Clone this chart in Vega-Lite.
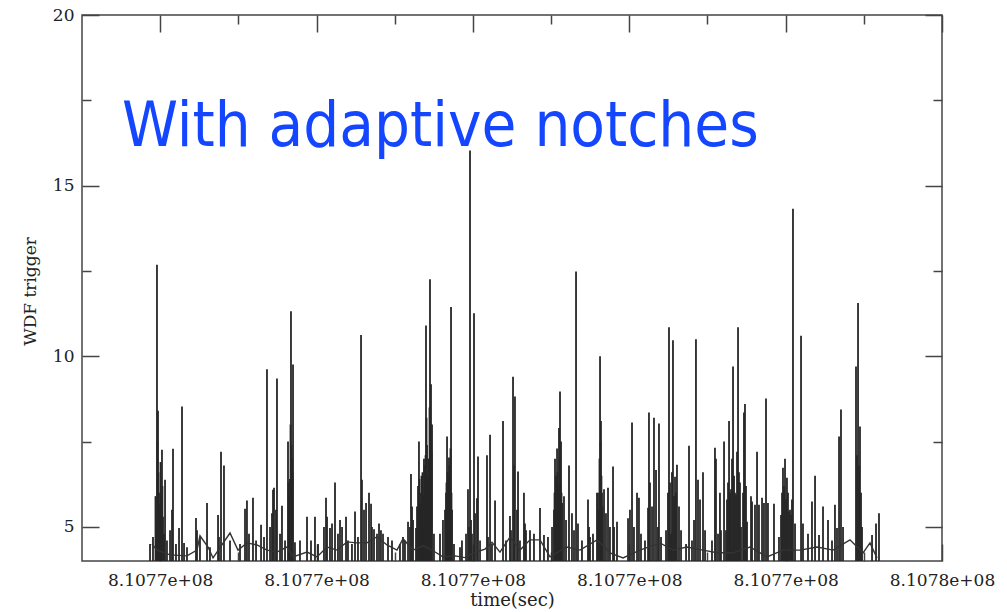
{
  "$schema": "https://vega.github.io/schema/vega-lite/v6.json",
  "width": 860,
  "height": 546,
  "autosize": {"type": "none"},
  "padding": {"left": 82, "top": 15, "right": 65, "bottom": 51},
  "background": "white",
  "config": {
    "view": {"stroke": "#444", "strokeWidth": 1.5},
    "axis": {"domain": false, "grid": false}
  },
  "datasets": {
    "spikes": [
      {"time": 810765870, "wdf": 4.5}, {"time": 810765908, "wdf": 4.7}, {"time": 810765947, "wdf": 5.15}, {"time": 810765959, "wdf": 12.68},
      {"time": 810765972, "wdf": 8.4}, {"time": 810765985, "wdf": 5.65}, {"time": 810765998, "wdf": 6.0}, {"time": 810766010, "wdf": 5.0},
      {"time": 810766023, "wdf": 7.26}, {"time": 810766036, "wdf": 5.3}, {"time": 810766049, "wdf": 4.8}, {"time": 810766062, "wdf": 6.38},
      {"time": 810766087, "wdf": 4.6}, {"time": 810766126, "wdf": 4.9}, {"time": 810766151, "wdf": 5.5}, {"time": 810766164, "wdf": 7.29},
      {"time": 810766202, "wdf": 4.5}, {"time": 810766241, "wdf": 4.97}, {"time": 810766279, "wdf": 8.53}, {"time": 810766305, "wdf": 4.53},
      {"time": 810766343, "wdf": 4.4}, {"time": 810766458, "wdf": 5.26}, {"time": 810766471, "wdf": 4.9}, {"time": 810766509, "wdf": 4.7},
      {"time": 810766599, "wdf": 5.7}, {"time": 810766637, "wdf": 4.4}, {"time": 810766740, "wdf": 5.35}, {"time": 810766752, "wdf": 4.7},
      {"time": 810766778, "wdf": 7.2}, {"time": 810766816, "wdf": 6.8}, {"time": 810766893, "wdf": 4.6}, {"time": 810767021, "wdf": 4.5},
      {"time": 810767085, "wdf": 5.53}, {"time": 810767110, "wdf": 5.77}, {"time": 810767136, "wdf": 4.8}, {"time": 810767187, "wdf": 5.85},
      {"time": 810767226, "wdf": 4.6}, {"time": 810767290, "wdf": 5.06}, {"time": 810767328, "wdf": 4.7}, {"time": 810767366, "wdf": 9.62},
      {"time": 810767405, "wdf": 5.0}, {"time": 810767430, "wdf": 5.4}, {"time": 810767443, "wdf": 6.09}, {"time": 810767456, "wdf": 6.15},
      {"time": 810767481, "wdf": 5.5}, {"time": 810767494, "wdf": 9.35}, {"time": 810767533, "wdf": 4.8}, {"time": 810767558, "wdf": 5.62},
      {"time": 810767597, "wdf": 4.6}, {"time": 810767635, "wdf": 7.5}, {"time": 810767648, "wdf": 5.5}, {"time": 810767660, "wdf": 6.4},
      {"time": 810767673, "wdf": 11.32}, {"time": 810767686, "wdf": 7.0}, {"time": 810767699, "wdf": 9.76}, {"time": 810767724, "wdf": 4.55},
      {"time": 810767788, "wdf": 4.6}, {"time": 810767878, "wdf": 5.3}, {"time": 810767929, "wdf": 4.6}, {"time": 810767980, "wdf": 5.3},
      {"time": 810768019, "wdf": 4.5}, {"time": 810768095, "wdf": 5.0}, {"time": 810768121, "wdf": 5.85}, {"time": 810768134, "wdf": 5.3},
      {"time": 810768172, "wdf": 4.97}, {"time": 810768198, "wdf": 5.1}, {"time": 810768236, "wdf": 6.3}, {"time": 810768274, "wdf": 4.8},
      {"time": 810768300, "wdf": 5.2}, {"time": 810768326, "wdf": 5.0}, {"time": 810768377, "wdf": 5.3}, {"time": 810768402, "wdf": 4.6},
      {"time": 810768453, "wdf": 4.5}, {"time": 810768492, "wdf": 5.45}, {"time": 810768530, "wdf": 4.7}, {"time": 810768569, "wdf": 10.62},
      {"time": 810768581, "wdf": 6.38}, {"time": 810768607, "wdf": 5.5}, {"time": 810768633, "wdf": 5.7}, {"time": 810768671, "wdf": 6.0},
      {"time": 810768697, "wdf": 5.68}, {"time": 810768709, "wdf": 5.0}, {"time": 810768735, "wdf": 4.93}, {"time": 810768773, "wdf": 4.8},
      {"time": 810768799, "wdf": 5.1}, {"time": 810768824, "wdf": 4.9}, {"time": 810768850, "wdf": 4.8}, {"time": 810768914, "wdf": 4.7},
      {"time": 810768965, "wdf": 4.6}, {"time": 810769067, "wdf": 4.5}, {"time": 810769106, "wdf": 4.7}, {"time": 810769131, "wdf": 4.6},
      {"time": 810769170, "wdf": 5.15}, {"time": 810769195, "wdf": 5.0}, {"time": 810769208, "wdf": 6.55}, {"time": 810769221, "wdf": 5.6},
      {"time": 810769234, "wdf": 5.2}, {"time": 810769272, "wdf": 4.97}, {"time": 810769310, "wdf": 7.5}, {"time": 810769323, "wdf": 6.0},
      {"time": 810769336, "wdf": 5.5}, {"time": 810769349, "wdf": 6.1}, {"time": 810769374, "wdf": 7.0}, {"time": 810769400, "wdf": 10.9},
      {"time": 810769413, "wdf": 7.4}, {"time": 810769426, "wdf": 6.0}, {"time": 810769451, "wdf": 12.26}, {"time": 810769464, "wdf": 9.18},
      {"time": 810769477, "wdf": 8.0}, {"time": 810769502, "wdf": 4.8}, {"time": 810769579, "wdf": 4.8}, {"time": 810769617, "wdf": 5.2},
      {"time": 810769643, "wdf": 5.5}, {"time": 810769656, "wdf": 6.0}, {"time": 810769669, "wdf": 7.65}, {"time": 810769681, "wdf": 6.5},
      {"time": 810769694, "wdf": 7.03}, {"time": 810769707, "wdf": 6.0}, {"time": 810769720, "wdf": 11.44}, {"time": 810769733, "wdf": 5.5},
      {"time": 810769758, "wdf": 4.5}, {"time": 810769835, "wdf": 4.4}, {"time": 810769860, "wdf": 4.6}, {"time": 810769912, "wdf": 4.8},
      {"time": 810769937, "wdf": 6.1}, {"time": 810769950, "wdf": 5.0}, {"time": 810769963, "wdf": 16.03}, {"time": 810769976, "wdf": 5.2},
      {"time": 810769988, "wdf": 4.8}, {"time": 810770014, "wdf": 11.26}, {"time": 810770027, "wdf": 5.4}, {"time": 810770052, "wdf": 5.84},
      {"time": 810770065, "wdf": 7.06}, {"time": 810770091, "wdf": 4.6}, {"time": 810770180, "wdf": 7.1}, {"time": 810770193, "wdf": 4.7},
      {"time": 810770219, "wdf": 7.7}, {"time": 810770244, "wdf": 4.5}, {"time": 810770283, "wdf": 5.77}, {"time": 810770385, "wdf": 8.1},
      {"time": 810770423, "wdf": 4.6}, {"time": 810770474, "wdf": 5.32}, {"time": 810770487, "wdf": 4.9}, {"time": 810770513, "wdf": 9.4},
      {"time": 810770526, "wdf": 6.8}, {"time": 810770538, "wdf": 8.82}, {"time": 810770564, "wdf": 5.5}, {"time": 810770577, "wdf": 6.62},
      {"time": 810770602, "wdf": 4.6}, {"time": 810770653, "wdf": 6.0}, {"time": 810770666, "wdf": 5.1}, {"time": 810770679, "wdf": 4.9},
      {"time": 810770730, "wdf": 4.9}, {"time": 810770781, "wdf": 4.8}, {"time": 810770858, "wdf": 5.55}, {"time": 810770909, "wdf": 4.76},
      {"time": 810770960, "wdf": 4.7}, {"time": 810771012, "wdf": 5.0}, {"time": 810771037, "wdf": 5.5}, {"time": 810771050, "wdf": 7.0},
      {"time": 810771063, "wdf": 6.5}, {"time": 810771076, "wdf": 7.3}, {"time": 810771088, "wdf": 5.8}, {"time": 810771101, "wdf": 7.9},
      {"time": 810771114, "wdf": 8.97}, {"time": 810771127, "wdf": 7.5}, {"time": 810771140, "wdf": 5.7}, {"time": 810771165, "wdf": 5.9},
      {"time": 810771191, "wdf": 5.2}, {"time": 810771229, "wdf": 6.8}, {"time": 810771267, "wdf": 5.4}, {"time": 810771293, "wdf": 4.9},
      {"time": 810771319, "wdf": 12.48}, {"time": 810771344, "wdf": 5.1}, {"time": 810771395, "wdf": 4.6}, {"time": 810771472, "wdf": 5.8},
      {"time": 810771485, "wdf": 5.0}, {"time": 810771498, "wdf": 4.7}, {"time": 810771536, "wdf": 4.8}, {"time": 810771587, "wdf": 6.0},
      {"time": 810771613, "wdf": 5.5}, {"time": 810771626, "wdf": 10.0}, {"time": 810771638, "wdf": 8.1}, {"time": 810771651, "wdf": 6.0},
      {"time": 810771677, "wdf": 6.1}, {"time": 810771702, "wdf": 5.4}, {"time": 810771728, "wdf": 6.15}, {"time": 810771753, "wdf": 5.0},
      {"time": 810771792, "wdf": 6.77}, {"time": 810771805, "wdf": 5.0}, {"time": 810771843, "wdf": 5.15}, {"time": 810771984, "wdf": 5.25},
      {"time": 810772009, "wdf": 5.5}, {"time": 810772035, "wdf": 8.06}, {"time": 810772060, "wdf": 5.0}, {"time": 810772099, "wdf": 6.0},
      {"time": 810772124, "wdf": 5.85}, {"time": 810772150, "wdf": 4.8}, {"time": 810772201, "wdf": 4.6}, {"time": 810772240, "wdf": 5.56},
      {"time": 810772252, "wdf": 8.35}, {"time": 810772265, "wdf": 6.3}, {"time": 810772291, "wdf": 5.6}, {"time": 810772316, "wdf": 8.2},
      {"time": 810772342, "wdf": 6.67}, {"time": 810772367, "wdf": 5.0}, {"time": 810772380, "wdf": 8.03}, {"time": 810772406, "wdf": 4.7},
      {"time": 810772470, "wdf": 4.9}, {"time": 810772508, "wdf": 10.85}, {"time": 810772534, "wdf": 4.8}, {"time": 810772559, "wdf": 10.47},
      {"time": 810772585, "wdf": 6.47}, {"time": 810772610, "wdf": 6.82}, {"time": 810772636, "wdf": 5.6}, {"time": 810772662, "wdf": 4.9},
      {"time": 810772726, "wdf": 4.5}, {"time": 810772764, "wdf": 7.38}, {"time": 810772802, "wdf": 4.6}, {"time": 810772828, "wdf": 5.2},
      {"time": 810772853, "wdf": 10.5}, {"time": 810772879, "wdf": 6.38}, {"time": 810772905, "wdf": 5.8}, {"time": 810772943, "wdf": 6.6},
      {"time": 810772969, "wdf": 4.9}, {"time": 810773058, "wdf": 4.6}, {"time": 810773096, "wdf": 7.32}, {"time": 810773109, "wdf": 7.0},
      {"time": 810773135, "wdf": 4.8}, {"time": 810773160, "wdf": 6.0}, {"time": 810773173, "wdf": 4.9}, {"time": 810773212, "wdf": 7.5},
      {"time": 810773237, "wdf": 4.9}, {"time": 810773276, "wdf": 8.1}, {"time": 810773301, "wdf": 6.1}, {"time": 810773327, "wdf": 9.7},
      {"time": 810773365, "wdf": 5.94}, {"time": 810773391, "wdf": 10.85}, {"time": 810773403, "wdf": 6.6}, {"time": 810773429, "wdf": 5.0},
      {"time": 810773467, "wdf": 8.35}, {"time": 810773480, "wdf": 8.6}, {"time": 810773506, "wdf": 5.15}, {"time": 810773557, "wdf": 5.9},
      {"time": 810773570, "wdf": 5.74}, {"time": 810773608, "wdf": 5.65}, {"time": 810773634, "wdf": 7.2}, {"time": 810773659, "wdf": 5.65},
      {"time": 810773698, "wdf": 5.85}, {"time": 810773723, "wdf": 5.7}, {"time": 810773749, "wdf": 8.76}, {"time": 810773774, "wdf": 5.7},
      {"time": 810773851, "wdf": 5.68}, {"time": 810773915, "wdf": 4.7}, {"time": 810773941, "wdf": 5.35}, {"time": 810773966, "wdf": 6.73},
      {"time": 810773992, "wdf": 7.0}, {"time": 810774017, "wdf": 6.44}, {"time": 810774043, "wdf": 5.45}, {"time": 810774069, "wdf": 5.35},
      {"time": 810774094, "wdf": 14.32}, {"time": 810774120, "wdf": 5.1}, {"time": 810774197, "wdf": 10.6}, {"time": 810774222, "wdf": 5.1},
      {"time": 810774286, "wdf": 4.8}, {"time": 810774337, "wdf": 5.74}, {"time": 810774376, "wdf": 6.5}, {"time": 810774427, "wdf": 4.76},
      {"time": 810774478, "wdf": 5.6}, {"time": 810774542, "wdf": 5.2}, {"time": 810774593, "wdf": 4.6}, {"time": 810774631, "wdf": 5.65},
      {"time": 810774657, "wdf": 4.97}, {"time": 810774683, "wdf": 7.65}, {"time": 810774708, "wdf": 8.44}, {"time": 810774734, "wdf": 5.0},
      {"time": 810774900, "wdf": 9.7}, {"time": 810774926, "wdf": 11.56}, {"time": 810774951, "wdf": 7.94}, {"time": 810774977, "wdf": 5.0},
      {"time": 810775105, "wdf": 4.76}, {"time": 810775156, "wdf": 5.1}, {"time": 810775194, "wdf": 5.4},
      {"time": 810765940, "wdf": 5.9}, {"time": 810765965, "wdf": 7.5}, {"time": 810765978, "wdf": 6.6}, {"time": 810765991, "wdf": 5.6},
      {"time": 810766004, "wdf": 6.9}, {"time": 810766016, "wdf": 5.9}, {"time": 810766029, "wdf": 6.2},
      {"time": 810767641, "wdf": 6.3}, {"time": 810767654, "wdf": 5.9}, {"time": 810767667, "wdf": 8.0}, {"time": 810767679, "wdf": 7.4}, {"time": 810767692, "wdf": 6.6},
      {"time": 810769285, "wdf": 5.6}, {"time": 810769298, "wdf": 6.2}, {"time": 810769317, "wdf": 6.4}, {"time": 810769330, "wdf": 5.7},
      {"time": 810769342, "wdf": 6.5}, {"time": 810769355, "wdf": 6.6}, {"time": 810769368, "wdf": 5.9}, {"time": 810769381, "wdf": 6.8},
      {"time": 810769394, "wdf": 7.1}, {"time": 810769407, "wdf": 8.2}, {"time": 810769419, "wdf": 6.5}, {"time": 810769432, "wdf": 7.0},
      {"time": 810769445, "wdf": 8.5}, {"time": 810769458, "wdf": 7.6}, {"time": 810769470, "wdf": 7.2},
      {"time": 810769662, "wdf": 6.3}, {"time": 810769675, "wdf": 6.6}, {"time": 810769688, "wdf": 5.9}, {"time": 810769700, "wdf": 6.8},
      {"time": 810769713, "wdf": 7.3}, {"time": 810769726, "wdf": 6.0},
      {"time": 810771044, "wdf": 6.0}, {"time": 810771057, "wdf": 5.9}, {"time": 810771069, "wdf": 6.4}, {"time": 810771082, "wdf": 6.6},
      {"time": 810771095, "wdf": 6.3}, {"time": 810771108, "wdf": 7.0}, {"time": 810771120, "wdf": 6.2}, {"time": 810771133, "wdf": 6.0},
      {"time": 810771600, "wdf": 6.0}, {"time": 810771619, "wdf": 7.0}, {"time": 810771632, "wdf": 7.5}, {"time": 810771644, "wdf": 6.5}, {"time": 810771657, "wdf": 5.6},
      {"time": 810772495, "wdf": 6.0}, {"time": 810772521, "wdf": 6.3}, {"time": 810772546, "wdf": 6.6}, {"time": 810772572, "wdf": 5.9}, {"time": 810772597, "wdf": 6.0},
      {"time": 810773250, "wdf": 5.8}, {"time": 810773263, "wdf": 6.3}, {"time": 810773288, "wdf": 6.0}, {"time": 810773314, "wdf": 7.0},
      {"time": 810773340, "wdf": 6.5}, {"time": 810773352, "wdf": 6.0}, {"time": 810773378, "wdf": 7.2}, {"time": 810773416, "wdf": 6.3},
      {"time": 810773455, "wdf": 6.0}, {"time": 810773493, "wdf": 6.2},
      {"time": 810773954, "wdf": 6.0}, {"time": 810773979, "wdf": 6.2}, {"time": 810774005, "wdf": 5.8}, {"time": 810774030, "wdf": 6.0},
      {"time": 810774056, "wdf": 5.5}, {"time": 810774081, "wdf": 5.8},
      {"time": 810774913, "wdf": 7.1}, {"time": 810774939, "wdf": 6.8}, {"time": 810774964, "wdf": 6.0}
    ],
    "baseline": [
      {"time": 810765895, "wdf": 4.5}, {"time": 810765959, "wdf": 4.32}, {"time": 810766126, "wdf": 4.18}, {"time": 810766343, "wdf": 4.15},
      {"time": 810766471, "wdf": 4.32}, {"time": 810766509, "wdf": 4.74}, {"time": 810766612, "wdf": 4.41}, {"time": 810766676, "wdf": 4.09},
      {"time": 810766893, "wdf": 4.82}, {"time": 810766995, "wdf": 4.32}, {"time": 810767110, "wdf": 4.53}, {"time": 810767238, "wdf": 4.47},
      {"time": 810767366, "wdf": 4.32}, {"time": 810767494, "wdf": 4.26}, {"time": 810767622, "wdf": 4.41}, {"time": 810767699, "wdf": 4.12},
      {"time": 810767878, "wdf": 4.26}, {"time": 810768006, "wdf": 4.12}, {"time": 810768134, "wdf": 4.41}, {"time": 810768262, "wdf": 4.32},
      {"time": 810768390, "wdf": 4.56}, {"time": 810768517, "wdf": 4.53}, {"time": 810768645, "wdf": 4.53}, {"time": 810768773, "wdf": 4.71},
      {"time": 810768901, "wdf": 4.47}, {"time": 810769029, "wdf": 4.32}, {"time": 810769106, "wdf": 4.65}, {"time": 810769234, "wdf": 4.32},
      {"time": 810769362, "wdf": 4.45}, {"time": 810769490, "wdf": 4.3}, {"time": 810769617, "wdf": 4.12}, {"time": 810769771, "wdf": 4.15},
      {"time": 810769899, "wdf": 4.1}, {"time": 810770027, "wdf": 4.25}, {"time": 810770155, "wdf": 4.35}, {"time": 810770244, "wdf": 4.55},
      {"time": 810770346, "wdf": 4.26}, {"time": 810770474, "wdf": 4.7}, {"time": 810770602, "wdf": 4.32}, {"time": 810770730, "wdf": 4.62},
      {"time": 810770858, "wdf": 4.62}, {"time": 810770986, "wdf": 4.12}, {"time": 810771203, "wdf": 4.41}, {"time": 810771370, "wdf": 4.32},
      {"time": 810771587, "wdf": 4.62}, {"time": 810771753, "wdf": 4.24}, {"time": 810771920, "wdf": 4.09}, {"time": 810772137, "wdf": 4.32},
      {"time": 810772393, "wdf": 4.53}, {"time": 810772559, "wdf": 4.32}, {"time": 810772738, "wdf": 4.41}, {"time": 810772943, "wdf": 4.32},
      {"time": 810773122, "wdf": 4.24}, {"time": 810773327, "wdf": 4.24}, {"time": 810773544, "wdf": 4.41}, {"time": 810773762, "wdf": 4.12},
      {"time": 810773966, "wdf": 4.32}, {"time": 810774184, "wdf": 4.32}, {"time": 810774401, "wdf": 4.41}, {"time": 810774606, "wdf": 4.32},
      {"time": 810774823, "wdf": 4.62}, {"time": 810774990, "wdf": 4.24}, {"time": 810775079, "wdf": 4.53}, {"time": 810775169, "wdf": 4.09}
    ]
  },
  "resolve": {"axis": {"x": "independent", "y": "independent"}},
  "layer": [
    {
      "data": {"name": "spikes"},
      "mark": {"type": "rule", "stroke": "#262626", "strokeWidth": 1.8, "clip": true},
      "encoding": {
        "x": {
          "field": "time", "type": "quantitative",
          "scale": {"domain": [810765000, 810776000], "nice": false, "zero": false},
          "axis": {
            "orient": "bottom",
            "values": [810766000, 810767000, 810768000, 810769000, 810770000, 810771000, 810772000, 810773000, 810774000, 810775000, 810776000],
            "tickSize": {"condition": {"test": "(datum.value - 810766000) % 2000 === 0", "value": -17}, "value": -9},
            "tickColor": "#444", "tickWidth": 1.5,
            "labelExpr": "(datum.value - 810766000) % 2000 === 0 ? replace(format(datum.value, '.4e'), 'e+8', 'e+08') : ''",
            "labelFont": "DejaVu Serif", "labelFontSize": 17, "labelColor": "#222",
            "labelPadding": 28, "labelBaseline": "top", "labelFlush": false, "labelOverlap": false,
            "title": "time(sec)", "titleFont": "DejaVu Serif", "titleFontSize": 18, "titleFontWeight": "normal",
            "titleColor": "#222", "titleY": 39, "titleBaseline": "middle"
          }
        },
        "y": {
          "field": "wdf", "type": "quantitative",
          "scale": {"domain": [4, 20], "nice": false, "zero": false},
          "axis": {
            "orient": "left",
            "values": [5, 7.5, 10, 12.5, 15, 17.5, 20],
            "tickSize": {"condition": {"test": "datum.value % 5 === 0", "value": -17}, "value": -9},
            "tickColor": "#444", "tickWidth": 1.5,
            "labelExpr": "datum.value % 5 === 0 ? format(datum.value, 'd') : ''",
            "labelFont": "DejaVu Serif", "labelFontSize": 17, "labelColor": "#222",
            "labelPadding": 25, "labelFlush": false, "labelOverlap": false,
            "title": "WDF trigger", "titleFont": "DejaVu Serif", "titleFontSize": 17, "titleFontWeight": "normal",
            "titleColor": "#222", "titleX": -52, "titleY": 276, "titleAngle": 270,
            "titleAlign": "center", "titleBaseline": "middle"
          }
        },
        "y2": {"datum": 4}
      }
    },
    {
      "data": {"name": "baseline"},
      "mark": {"type": "line", "stroke": "#333", "strokeWidth": 1.4, "clip": true},
      "encoding": {
        "x": {
          "field": "time", "type": "quantitative",
          "axis": {
            "orient": "top",
            "values": [810766000, 810767000, 810768000, 810769000, 810770000, 810771000, 810772000, 810773000, 810774000, 810775000, 810776000],
            "tickSize": {"condition": {"test": "(datum.value - 810766000) % 2000 === 0", "value": -17}, "value": -9},
            "tickColor": "#444", "tickWidth": 1.5, "labels": false, "title": null
          }
        },
        "y": {
          "field": "wdf", "type": "quantitative",
          "axis": {
            "orient": "right",
            "values": [5, 7.5, 10, 12.5, 15, 17.5, 20],
            "tickSize": {"condition": {"test": "datum.value % 5 === 0", "value": -17}, "value": -9},
            "tickColor": "#444", "tickWidth": 1.5, "labels": false, "title": null
          }
        }
      }
    },
    {
      "data": {"values": [{"label": "With adaptive notches"}]},
      "mark": {"type": "text", "align": "left", "baseline": "alphabetic", "font": "DejaVu Sans Condensed, Liberation Sans", "fontSize": 63, "color": "#1446ff"},
      "encoding": {
        "x": {"datum": 810765512, "type": "quantitative", "axis": null},
        "y": {"datum": 16.15, "type": "quantitative", "axis": null},
        "text": {"field": "label", "type": "nominal"}
      }
    }
  ]
}
